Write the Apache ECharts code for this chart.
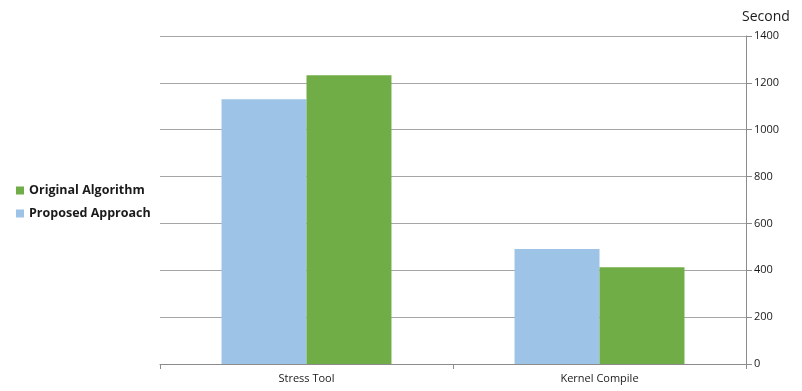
<!DOCTYPE html>
<html>
<head>
<meta charset="utf-8">
<script src="https://cdn.jsdelivr.net/npm/echarts@6/dist/echarts.min.js"></script>
<style>
  html, body { margin: 0; padding: 0; background: #fff; }
  #main { width: 802px; height: 391px; }
</style>
</head>
<body>
<div id="main"></div>
<script>
var categories = ['Stress Tool', 'Kernel Compile'];
var proposed_values = [1130, 491];
var original_values = [1232, 413];
var y_ticks = [0, 200, 400, 600, 800, 1000, 1200, 1400];

var chart = echarts.init(document.getElementById('main'));

var option = {
    animation: false,
    legend: {
        orient: 'vertical',
        left: 11,
        top: 179,
        itemWidth: 8,
        itemHeight: 8,
        itemGap: 10,
        icon: 'rect',
        data: ['Original Algorithm', 'Proposed Approach'],
        textStyle: {
            fontFamily: 'Open Sans',
            fontWeight: 'bold',
            fontSize: 12.5,
            color: '#1a1a1a'
        }
    },
    grid: {
        left: 160,
        right: 56,
        top: 36,
        bottom: 27
    },
    xAxis: {
        type: 'category',
        data: categories,
        axisLine: { lineStyle: { color: '#8c8c8c' } },
        axisTick: { show: true, length: 5, lineStyle: { color: '#8c8c8c' } },
        axisLabel: {
            fontFamily: 'Open Sans',
            fontSize: 11,
            color: '#1a1a1a',
            margin: 9
        }
    },
    yAxis: {
        type: 'value',
        position: 'right',
        min: y_ticks[0],
        max: y_ticks[y_ticks.length - 1],
        interval: 200,
        name: 'Second',
        nameLocation: 'end',
        nameGap: 12,
        nameTextStyle: {
            fontFamily: 'Open Sans',
            fontSize: 14,
            color: '#1a1a1a',
            align: 'left',
            padding: [0, 0, 0, -4]
        },
        axisLine: { show: true, lineStyle: { color: '#8c8c8c' } },
        axisTick: { show: true, length: 6, lineStyle: { color: '#8c8c8c' } },
        axisLabel: {
            fontFamily: 'Open Sans',
            fontSize: 11,
            color: '#1a1a1a',
            margin: 8,
            formatter: function (v) { return String(v); }
        },
        splitLine: { lineStyle: { color: '#a6a6a6' } }
    },
    series: [
        {
            name: 'Proposed Approach',
            type: 'bar',
            data: proposed_values,
            barGap: '0%',
            barCategoryGap: '42%',
            itemStyle: { color: '#9dc3e6' }
        },
        {
            name: 'Original Algorithm',
            type: 'bar',
            data: original_values,
            itemStyle: { color: '#70ad47' }
        }
    ]
};

chart.setOption(option);
</script>
</body>
</html>
